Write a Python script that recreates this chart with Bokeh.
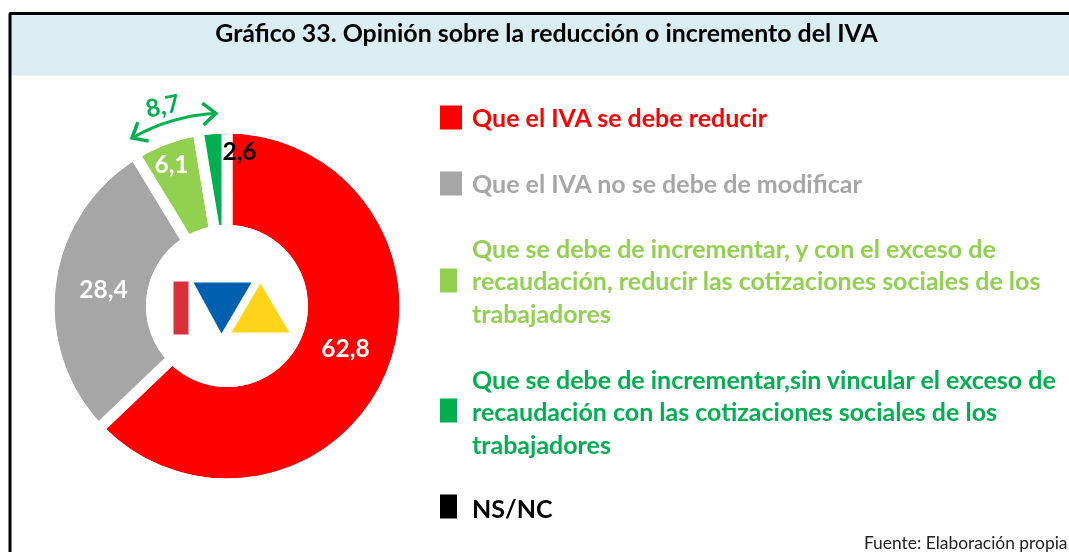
import math
from bokeh.core.properties import value
from bokeh.embed import file_html
from bokeh.models import Range1d
from bokeh.plotting import figure
from bokeh.resources import INLINE

title_text = "Gráfico 33. Opinión sobre la reducción o incremento del IVA"
source_text = "Fuente: Elaboración propia"

slice_values = [62.8, 28.4, 6.1, 2.6]
slice_labels = ["62,8", "28,4", "6,1", "2,6"]
slice_colors = ["#ff0000", "#a6a6a6", "#92d050", "#00b050"]
label_colors = ["#ffffff", "#ffffff", "#ffffff", "#000000"]
bracket_label = "8,7"

legend_lines = [
    ["Que el IVA se debe reducir"],
    ["Que el IVA no se debe de modificar"],
    ["Que se debe de incrementar, y con el exceso de",
     "recaudación, reducir las cotizaciones sociales de los",
     "trabajadores"],
    ["Que se debe de incrementar,sin vincular el exceso de",
     "recaudación con las cotizaciones sociales de los",
     "trabajadores"],
    ["NS/NC"],
]
legend_colors = ["#ff0000", "#a6a6a6", "#92d050", "#00b050", "#000000"]

# layout (pixels of the page)
CX, CY, R_OUT, R_IN, GAP = 226.5, 305.5, 172.5, 81, 11
FONT = value("Lato")
legend_tops = [105, 171, 268, 398, 494]
legend_sizes = [(22, 24), (22, 24), (17, 24), (17, 24), (17, 24)]
legend_first_y = [116, 182, 247, 378, 507]
LINE_STEP = 32.5
LEGEND_SIZE = "25px"
LABEL_SIZE = "24.5px"

p = figure(width=1069, height=552, x_range=Range1d(0, 1069), y_range=Range1d(552, 0),
           toolbar_location=None, output_backend="svg", min_border=0,
           x_axis_location=None, y_axis_location=None,
           styles={"position": "fixed", "left": "0", "top": "0"})
p.grid.visible = False
p.outline_line_color = None
p.background_fill_color = "#ffffff"
p.border_fill_color = "#ffffff"

# header band and frame
p.quad(left=[9], right=[1069], top=[13], bottom=[75], fill_color="#daedf3", line_color=None)
p.line([1069, 9.5, 9.5], [13, 13, 552], line_color="#000000", line_width=3)
p.text([546], [31], text=[title_text], text_font=FONT, text_font_style="bold",
       text_font_size="24.9px", text_color="#000000", text_align="center", text_baseline="middle")

# donut
total = sum(slice_values)
start = math.pi / 2
starts, ends = [], []
for v in slice_values:
    end = start - v / total * 2 * math.pi
    starts.append(start)
    ends.append(end)
    start = end
n = len(slice_values)
p.annular_wedge([CX] * n, [CY] * n, inner_radius=R_IN - GAP / 2, outer_radius=R_OUT + GAP / 2,
                start_angle=starts, end_angle=ends, direction="clock",
                fill_color=slice_colors, line_color="#ffffff", line_width=GAP)
# white masks keeping the ring edges at their true radii
p.circle([CX], [CY], radius=R_IN, fill_color="#ffffff", line_color=None)
p.annulus([CX], [CY], inner_radius=R_OUT, outer_radius=R_OUT + GAP, fill_color="#ffffff", line_color=None)

label_pos = [(345, 347), (103, 288), (171, 163), (239, 150)]
for (x, y), t, c in zip(label_pos, slice_labels, label_colors):
    p.text([x], [y], text=[t], text_font=FONT, text_font_style="bold", text_font_size=LABEL_SIZE,
           text_color=c, text_align="center", text_baseline="middle")

# green bracket over the two incremental slices
ARC_R, A0, A1 = 193, math.radians(93.3), math.radians(119.5)
GREEN = "#00b050"
p.arc([CX], [CY], radius=ARC_R, start_angle=A0, end_angle=A1, direction="anticlock",
      line_color=GREEN, line_width=3)
def head(angle, back):
    tx, ty = CX + ARC_R * math.cos(angle), CY - ARC_R * math.sin(angle)
    tang = angle + back * math.pi / 2
    xs, ys = [], []
    for d in (0.7, -0.7):
        a = tang + d
        xs.append(tx + 17 * math.cos(a))
        ys.append(ty - 17 * math.sin(a))
    return [xs[0], tx, xs[1]], [ys[0], ty, ys[1]]
for ang, back in ((A0, 1), (A1, -1)):
    hx, hy = head(ang, back)
    p.line(hx, hy, line_color=GREEN, line_width=3.5, line_join="miter")
p.text([162], [105], text=[bracket_label], text_font=FONT, text_font_style="bold",
       text_font_size=LABEL_SIZE, text_color=GREEN, text_align="center", text_baseline="middle",
       angle=[math.radians(12)])

# IVA logo
p.quad(left=[173], right=[188], top=[281], bottom=[334], fill_color="#d9303a", line_color=None)
p.patch([193, 251, 221], [282, 282, 333], fill_color="#0060b0", line_color=None)
p.patch([260, 231, 289], [283, 332, 332], fill_color="#ffd41a", line_color=None)

# legend
for lines, col, top, (w, h), y0 in zip(legend_lines, legend_colors, legend_tops, legend_sizes, legend_first_y):
    p.quad(left=[439.5], right=[439.5 + w], top=[top], bottom=[top + h], fill_color=col, line_color=None)
    for i, line in enumerate(lines):
        p.text([471.5], [y0 + i * LINE_STEP], text=[line], text_font=FONT, text_font_style="bold",
               text_font_size=LEGEND_SIZE, text_color=col, text_align="left", text_baseline="middle")

p.text([1067], [542], text=[source_text], text_font=FONT, text_font_size="17.4px",
       text_color="#222222", text_align="right", text_baseline="middle")

open("out.html", "w").write(file_html(p, INLINE))
